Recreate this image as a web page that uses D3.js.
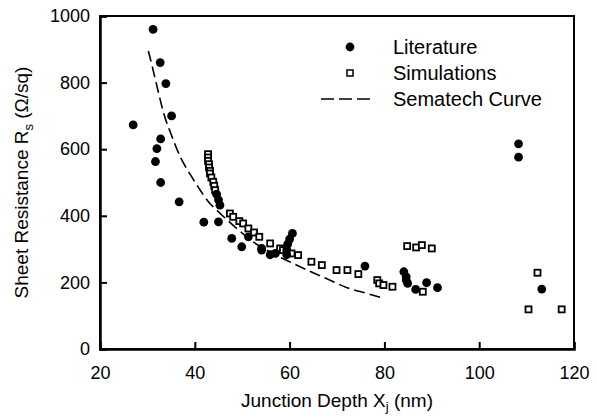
<!DOCTYPE html>
<html>
<head>
<meta charset="utf-8">
<script src="https://cdn.jsdelivr.net/npm/d3@7"></script>
<style>
	body { margin: 0; background: #fff; }
	text { font-family: Arial, 'Liberation Sans', sans-serif; fill: #000; }
</style>
</head>
<body>
<div id="wrapper"></div>
<script>
// Literature points [junction depth nm, sheet resistance ohm/sq]
const literature = [
	[27.0, 673], [31.2, 960], [31.7, 563], [32.0, 602], [32.7, 860], [32.8, 631],
	[32.8, 500], [33.9, 797], [35.1, 700], [36.7, 442], [41.9, 381], [45.0, 382],
	[44.6, 465], [45.0, 448], [45.3, 432], [47.8, 332], [49.9, 307], [51.3, 337],
	[54.1, 302], [54.1, 297], [55.9, 283], [57.0, 287], [59.4, 283], [59.4, 297],
	[59.6, 315], [60.0, 330], [60.6, 347], [75.9, 249], [84.1, 232], [84.6, 217],
	[84.6, 207], [84.9, 197], [86.6, 179], [88.9, 199], [91.2, 184],
	[108.3, 616], [108.3, 576], [113.2, 180]
];

const simulations = [
	[42.8, 585], [42.8, 575], [42.8, 565], [43.0, 555], [43.0, 545], [43.2, 535],
	[43.2, 527], [43.5, 515], [43.9, 502], [44.1, 490], [44.3, 477],
	[47.4, 407], [48.1, 397], [49.4, 384], [50.2, 377], [51.3, 362], [52.5, 350],
	[53.6, 337], [55.9, 317], [58.0, 302], [58.6, 297], [59.4, 292], [60.4, 287],
	[61.8, 282], [64.6, 262], [66.8, 252], [69.9, 237], [72.2, 237], [74.5, 225],
	[78.5, 207], [78.9, 197], [79.8, 192], [81.7, 187], [84.8, 309], [86.7, 305],
	[87.9, 312], [90.0, 302], [88.1, 172], [112.3, 229], [110.4, 119], [117.4, 119]
];

// points
const sematech = [
	[30.2, 895], [31, 850], [32, 790], [33.5, 705], [35, 645], [37, 575], [39, 525],
	[41, 480], [43, 440], [45, 412], [49, 360], [52, 325], [56, 290], [60, 262],
	[64, 235], [68, 210], [72, 185], [76, 168], [80, 152]
];

const xTicks = [20, 40, 60, 80, 100, 120];
const yTicks = [0, 200, 400, 600, 800, 1000];
const legendLabels = ['Literature', 'Simulations', 'Sematech Curve'];

const dimensions = {
	width: 597,
	height: 417,
	margin: { top: 16, right: 23, bottom: 68, left: 100 }
};
dimensions.boundedWidth = dimensions.width - dimensions.margin.left - dimensions.margin.right;
dimensions.boundedHeight = dimensions.height - dimensions.margin.top - dimensions.margin.bottom;

const x = d3.scaleLinear().domain([ 20, 120 ]).range([ 0, dimensions.boundedWidth ]);
const y = d3.scaleLinear().domain([ 0, 1000 ]).range([ dimensions.boundedHeight, 0 ]);

const svg = d3.select('#wrapper').append('svg').attr('width', dimensions.width).attr('height', dimensions.height);
const bounds = svg
	.append('g')
	.attr('transform', `translate(${dimensions.margin.left}, ${dimensions.margin.top})`);

// frame
bounds
	.append('rect')
	.attr('x', 0)
	.attr('y', 0)
	.attr('width', dimensions.boundedWidth)
	.attr('height', dimensions.boundedHeight)
	.attr('fill', 'none')
	.attr('stroke', '#000')
	.attr('stroke-width', 2);

const xAxis = bounds
	.append('g')
	.attr('transform', `translate(0, ${dimensions.boundedHeight})`)
	.call(d3.axisBottom(x).tickValues(xTicks).tickFormat(d3.format('d')).tickSize(-7).tickPadding(17));
const yAxis = bounds
	.append('g')
	.call(d3.axisLeft(y).tickValues(yTicks).tickFormat(d3.format('d')).tickSize(-7).tickPadding(17));

[ xAxis, yAxis ].forEach((a) => {
	a.select('.domain').attr('stroke-width', 2.5);
	a.selectAll('.tick line').attr('stroke-width', 2);
	a.selectAll('.tick text').style('font-size', '18px').attr('fill', '#000');
});
xAxis.selectAll('.tick text').attr('dy', '0.71em');
yAxis.selectAll('.tick text').attr('x', -10);

// axis titles
const xTitle = svg
	.append('text')
	.attr('x', dimensions.margin.left + dimensions.boundedWidth / 2)
	.attr('y', 407)
	.attr('text-anchor', 'middle')
	.style('font-size', '19px');
xTitle.append('tspan').text('Junction Depth X');
xTitle.append('tspan').attr('dy', 4).style('font-size', '13px').text('j');
xTitle.append('tspan').attr('dy', -4).text(' (nm)');

const yTitle = svg
	.append('text')
	.attr('transform', `translate(28, ${dimensions.margin.top + dimensions.boundedHeight / 2}) rotate(-90)`)
	.attr('text-anchor', 'middle')
	.style('font-size', '19px');
yTitle.append('tspan').text('Sheet Resistance R');
yTitle.append('tspan').attr('dy', 5).style('font-size', '13px').text('s');
yTitle.append('tspan').attr('dy', -5).text(' (\u03a9/sq)');

// dashed curve
const line = d3.line().x((d) => x(d[0])).y((d) => y(d[1])).curve(d3.curveMonotoneX);
bounds
	.append('path')
	.datum(sematech)
	.attr('d', line)
	.attr('fill', 'none')
	.attr('stroke', '#000')
	.attr('stroke-width', 1.6)
	.attr('stroke-dasharray', '11,5');

// simulations squares
const sq = 6;
bounds
	.selectAll('.sim')
	.data(simulations)
	.join('rect')
	.attr('class', 'sim')
	.attr('x', (d) => x(d[0]) - sq / 2)
	.attr('y', (d) => y(d[1]) - sq / 2)
	.attr('width', sq)
	.attr('height', sq)
	.attr('fill', '#fff')
	.attr('stroke', '#000')
	.attr('stroke-width', 1.8);

// literature circles
bounds
	.selectAll('.lit')
	.data(literature)
	.join('circle')
	.attr('class', 'lit')
	.attr('cx', (d) => x(d[0]))
	.attr('cy', (d) => y(d[1]))
	.attr('r', 4.4)
	.attr('fill', '#000');

// legend
const legend = svg.append('g').attr('transform', 'translate(350, 47)');
const rowGap = 26;
legend.append('circle').attr('cx', 0).attr('cy', 0).attr('r', 4.4).attr('fill', '#000');
legend
	.append('rect')
	.attr('x', -3)
	.attr('y', rowGap - 3)
	.attr('width', 6)
	.attr('height', 6)
	.attr('fill', '#fff')
	.attr('stroke', '#000')
	.attr('stroke-width', 1.5);
legend
	.append('line')
	.attr('x1', -29)
	.attr('x2', 21)
	.attr('y1', rowGap * 2)
	.attr('y2', rowGap * 2)
	.attr('stroke', '#000')
	.attr('stroke-width', 1.6)
	.attr('stroke-dasharray', '13,5');
legend
	.selectAll('.leg-label')
	.data(legendLabels)
	.join('text')
	.attr('class', 'leg-label')
	.attr('x', 43)
	.attr('y', (d, i) => i * rowGap)
	.attr('dy', '0.36em')
	.style('font-size', '20px')
	.text((d) => d);
</script>
</body>
</html>
